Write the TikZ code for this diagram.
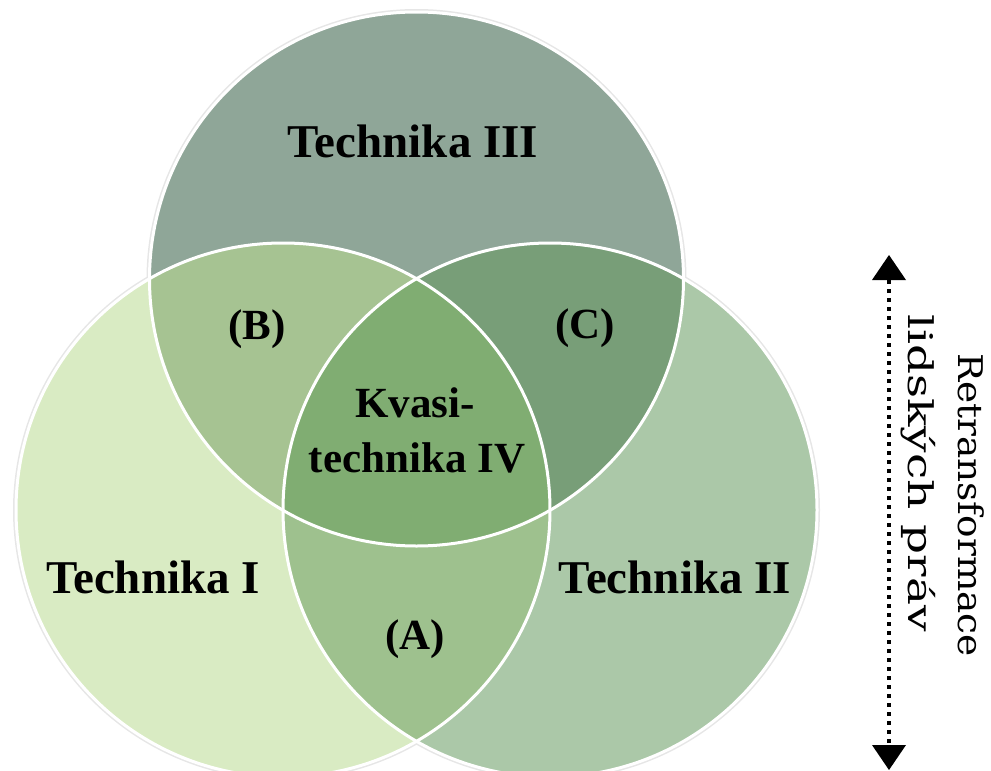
\documentclass[tikz,border=0pt]{standalone}
\usepackage{graphicx}
\usepackage{fontspec}
\setmainfont{Liberation Serif}
\newfontfamily\rtfont{DejaVu Serif}
\usetikzlibrary{arrows.meta}
\definecolor{cL}{HTML}{D9EBC3}
\definecolor{cT}{HTML}{8FA698}
\definecolor{cR}{HTML}{ABC8A8}
\definecolor{cB}{HTML}{A6C392}
\definecolor{cC}{HTML}{789E78}
\definecolor{cA}{HTML}{9EC18E}
\definecolor{cM}{HTML}{80AD72}
\definecolor{halo}{HTML}{E6E6E6}
\tikzset{
  lbl/.style={font=\bfseries\fontsize{47}{56}\selectfont, anchor=base, inner sep=0pt},
  sublbl/.style={font=\bfseries\fontsize{43}{52}\selectfont, anchor=base, inner sep=0pt},
  side/.style={font=\rtfont\fontsize{34}{40}\selectfont, anchor=base, inner sep=0pt, rotate=-90},
  rim/.style={draw=white, line width=3pt},
}
\begin{document}
\begin{tikzpicture}[x=1pt,y=-1pt]
\useasboundingbox (0,0) rectangle (991,771);
\clip (0,0) rectangle (991,771);
\def\rr{267}
\coordinate (cl) at (283,510);
\coordinate (cr) at (550,510);
\coordinate (ct) at (416.5,279);
% halo
\foreach \c in {cl,cr,ct} \draw[halo, line width=6pt] (\c) circle (\rr);
% base fills
\fill[cL] (cl) circle (\rr);
\fill[cR] (cr) circle (\rr);
\fill[cT] (ct) circle (\rr);
% pairwise
\begin{scope}\clip (cl) circle (\rr); \fill[cB] (ct) circle (\rr);\end{scope}
\begin{scope}\clip (cr) circle (\rr); \fill[cC] (ct) circle (\rr);\end{scope}
\begin{scope}\clip (cl) circle (\rr); \fill[cA] (cr) circle (\rr);\end{scope}
\begin{scope}\clip (cl) circle (\rr); \clip (cr) circle (\rr); \fill[cM] (ct) circle (\rr);\end{scope}
% rims
\foreach \c in {cl,cr,ct} \draw[rim] (\c) circle (\rr);
% labels
\node[lbl] (t3) at (413,157) {Technika III};
\node[lbl] (t1) at (153,593) {Technika I};
\node[lbl] (t2) at (675,593) {Technika II};
\node[sublbl] (b) at (257,339) {(B)};
\node[sublbl] (c) at (585,338) {(C)};
\node[sublbl] (a) at (415,649) {(A)};
\node[sublbl] (k1) at (415,417) {Kvasi-};
\node[sublbl] (k2) at (417,472) {technika IV};
% side arrow
\coordinate (atop) at (889,255);
\coordinate (abot) at (889,770);
\draw[line width=4pt, dash pattern=on 4pt off 5pt,
  {Triangle[width=34pt,length=25pt,line width=0pt]}-{Triangle[width=34pt,length=25pt,line width=0pt]}] (atop) -- (abot);
\node[side] (s1) at (958,505) {\scalebox{1.1}[1]{Retransformace}};
\node[side] (s2) at (908,473) {\scalebox{1.38}[1]{lidských práv}};
\end{tikzpicture}
\end{document}
